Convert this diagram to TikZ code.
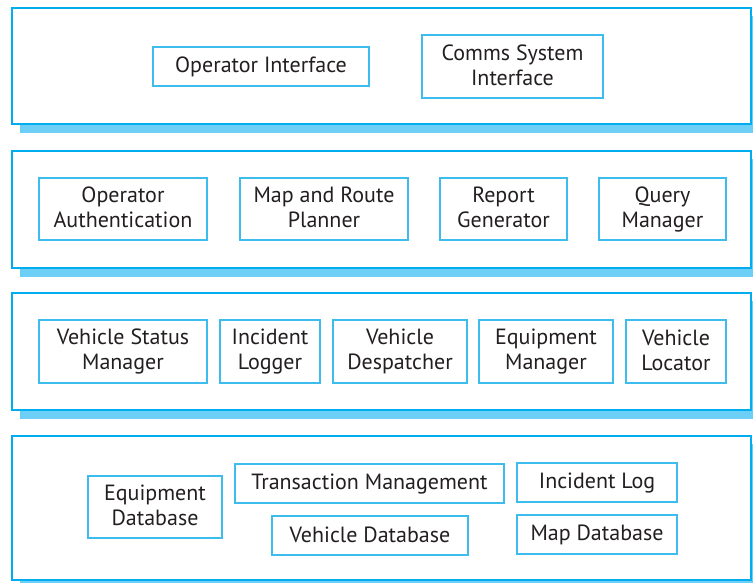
\documentclass[tikz,border=0pt]{standalone}
\usepackage{fontspec}
\setmainfont{PT Sans}
\definecolor{layerblue}{HTML}{00AEEF}
\definecolor{shadeblue}{HTML}{6DCFF6}
\definecolor{boxblue}{HTML}{3CBDEE}
\definecolor{inktext}{HTML}{231F20}
\newcommand{\boxstrut}{\rule[-2.5pt]{0pt}{15.5pt}}

\begin{document}
\begin{tikzpicture}[x=0.75pt,y=-0.75pt,
  layer/.style={draw=layerblue,line width=2.2pt,fill=white},
  shade/.style={fill=shadeblue},
  comp/.style={draw=boxblue,line width=1.1pt,inner sep=0pt,align=center,
    text=inktext,font=\fontsize{16.5}{18.75}\selectfont,
    execute at begin node=\boxstrut,execute at end node=\boxstrut}]
  \useasboundingbox (0,0) rectangle (753,582);
  % the four layers with their shadows
  \foreach \top/\bot in {8/124,151/268,293/410,436/580} {
    \fill[shade] (20,\top+8) rectangle (760,\bot+9);
    \draw[layer] (12,\top) rectangle (751,\bot);
  }
  % user interface
  \node[comp,minimum width=162pt,minimum height=29.25pt] (opint) at (261,66.5) {Operator Interface};
  \node[comp,minimum width=135.75pt,minimum height=47.25pt] (comms) at (512.5,66.5) {Comms System\\Interface};
  % information services
  \node[comp,minimum width=126pt,minimum height=46.5pt] (auth) at (123,209) {Operator\\Authentication};
  \node[comp,minimum width=126pt,minimum height=46.5pt] (maproute) at (324,209) {Map and Route\\Planner};
  \node[comp,minimum width=95.25pt,minimum height=46.5pt] (report) at (503.5,209) {Report\\Generator};
  \node[comp,minimum width=95.25pt,minimum height=46.5pt] (query) at (662.5,209) {Query\\Manager};
  % resource management
  \node[comp,minimum width=126pt,minimum height=47.25pt] (vstatus) at (123,351.5) {Vehicle Status\\Manager};
  \node[comp,minimum width=75pt,minimum height=47.25pt] (inclog) at (270,351.5) {Incident\\Logger};
  \node[comp,minimum width=100.5pt,minimum height=47.25pt] (despatch) at (400,351.5) {Vehicle\\Despatcher};
  \node[comp,minimum width=100.5pt,minimum height=47.25pt] (equipmgr) at (546,351.5) {Equipment\\Manager};
  \node[comp,minimum width=75pt,minimum height=47.25pt] (locator) at (676,351.5) {Vehicle\\Locator};
  % databases
  \node[comp,minimum width=100.5pt,minimum height=46.5pt] (equipdb) at (155,507) {Equipment\\Database};
  \node[comp,minimum width=201.75pt,minimum height=29.25pt] (transact) at (369.5,483.5) {Transaction Management};
  \node[comp,minimum width=147pt,minimum height=29.25pt] (vehdb) at (370,535.5) {Vehicle Database};
  \node[comp,minimum width=120pt,minimum height=29.25pt] (incdb) at (597,482.5) {Incident Log};
  \node[comp,minimum width=120pt,minimum height=29.25pt] (mapdb) at (597,534.5) {Map Database};
\end{tikzpicture}
\end{document}
